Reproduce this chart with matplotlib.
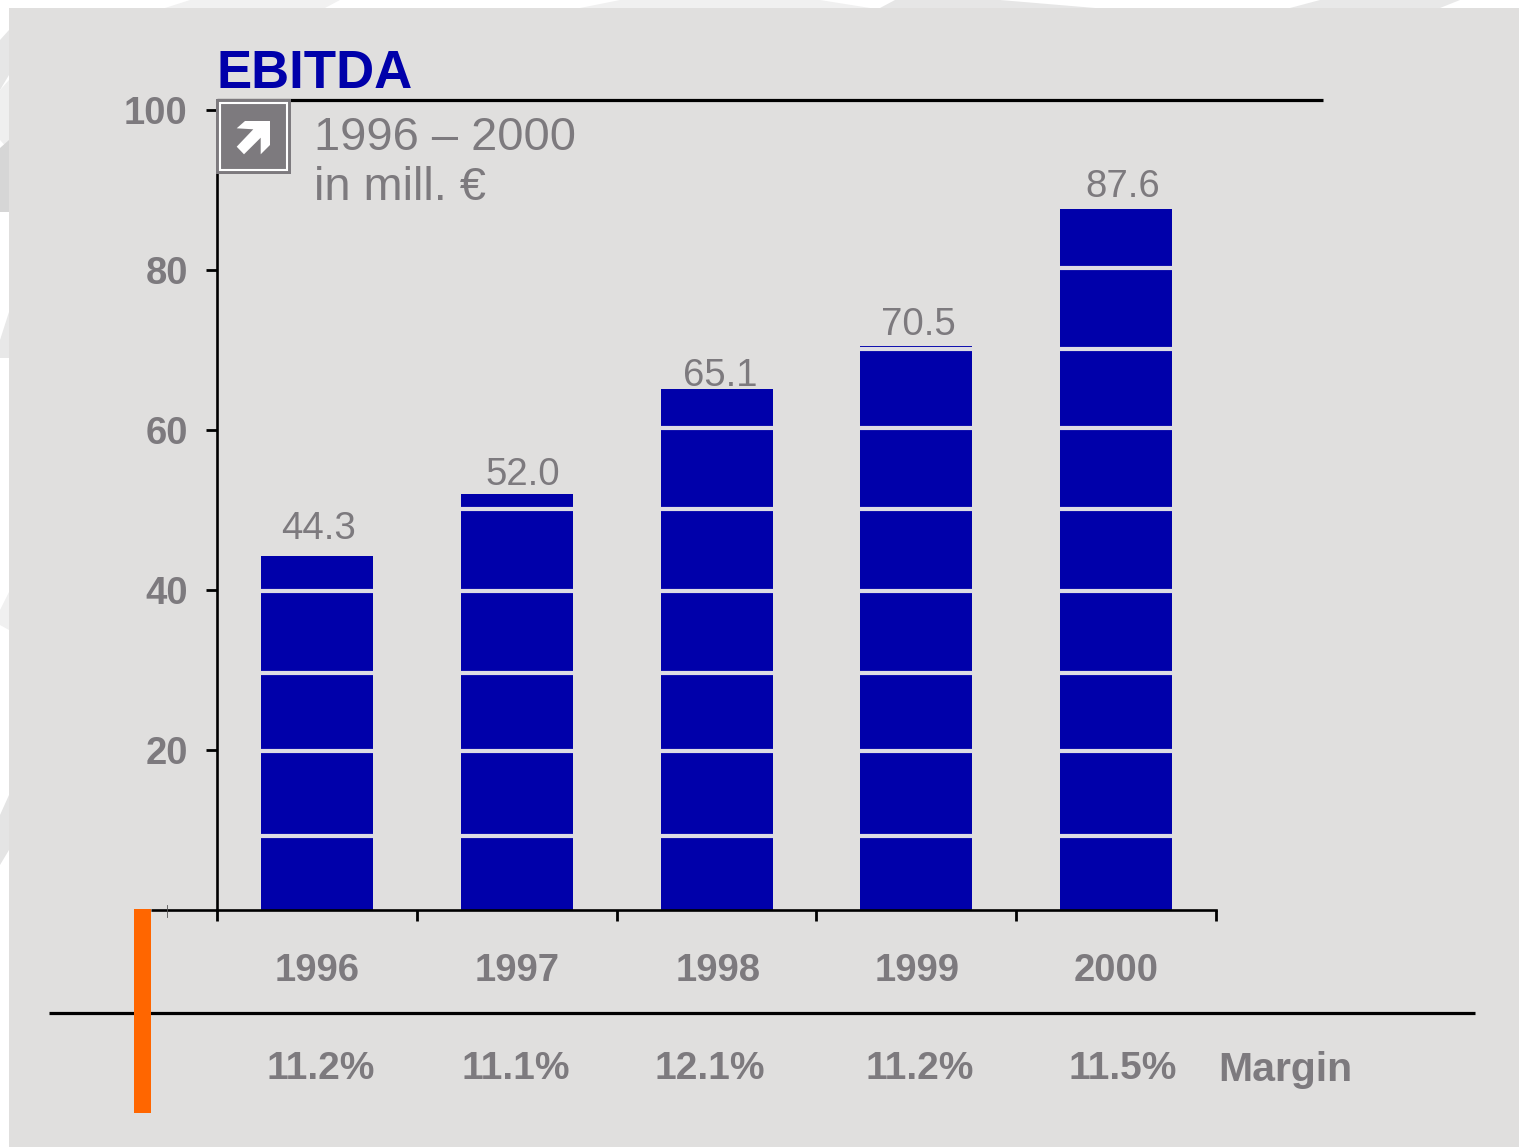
import matplotlib
matplotlib.use("Agg")
import matplotlib.pyplot as plt
from matplotlib.patches import Rectangle, Polygon

plt.rcParams["font.family"] = ["Liberation Sans", "DejaVu Sans"]

years = ["1996", "1997", "1998", "1999", "2000"]
ebitda = [44.3, 52.0, 65.1, 70.5, 87.6]
margins = ["11.2%", "11.1%", "12.1%", "11.2%", "11.5%"]
# white bands across the bars
bands = [9.25, 19.9, 29.6, 39.9, 50.1, 60.25, 70.1, 80.25]
y_ticks = [0, 20, 40, 60, 80, 100]

# label nudges in pixels (dx, gap above the bar)
label_dx = [2, 6, 4, 2, 7]
label_gap = [17, 9, 3, 11, 12]
margin_dx = [4, -1, -7, 3, 7]
year_dx = [0, 0, 2, 1, 0]

W, H = 1519, 1147
BLUE = "#0000AA"
GREY = "#7D7A7E"
PANEL = "#E0DFDE"

fig = plt.figure(figsize=(W / 100, H / 100), dpi=100, facecolor="white")

# page background in pixel coords
bg = fig.add_axes([0, 0, 1, 1], zorder=0)
bg.set_xlim(0, W)
bg.set_ylim(H, 0)
bg.axis("off")
# marble bits along the edge
marble = [
    ([(0, 40), (9, 30), (9, 75), (0, 90)], "#E6E6E6"),
    ([(0, 90), (9, 80), (9, 150), (0, 140)], "#EFEFEF"),
    ([(0, 148), (9, 140), (9, 212), (0, 212)], "#D6D6D6"),
    ([(0, 340), (9, 312), (9, 358), (0, 358)], "#E8E8E8"),
    ([(0, 610), (9, 592), (9, 630), (0, 625)], "#F0F0F0"),
    ([(0, 815), (9, 795), (9, 850), (0, 865)], "#E4E4E4"),
    ([(165, 8), (190, 0), (340, 0), (325, 8)], "#F1F1F1"),
    ([(580, 8), (620, 0), (820, 0), (870, 8)], "#F0F0F0"),
    ([(880, 8), (895, 0), (1000, 0), (1095, 8)], "#E6E6E6"),
    ([(1290, 8), (1320, 0), (1460, 0), (1440, 8)], "#E8E8E8"),
]
for pts, c in marble:
    bg.add_patch(Polygon(pts, closed=True, fc=c, ec="none"))
bg.add_patch(Rectangle((9, 8), W - 9, H - 8, fc=PANEL, ec="none"))

# main chart
ax = fig.add_axes([217 / W, 1 - 910 / H, 999 / W, 800 / H], zorder=1)
ax.patch.set_alpha(0)
xs = list(range(len(years)))
half = 56 / 199.8
ax.bar(xs, ebitda, width=2 * half, color=BLUE, linewidth=0, zorder=2)
for i, v in enumerate(ebitda):
    for b in bands:
        if b < v:
            ax.plot([i - half, i + half], [b, b], color="#DDDCE4",
                    lw=3.0, solid_capstyle="butt", zorder=3)
    ax.annotate(f"{v:.1f}", (i, v), xytext=(label_dx[i] * 0.72, label_gap[i] * 0.72),
                textcoords="offset points", ha="center", va="baseline",
                fontsize=27.6, color=GREY)

ax.set_xlim(-0.5, 4.5)
ax.set_ylim(0, 100)
for s in ["top", "right"]:
    ax.spines[s].set_visible(False)
ax.spines["left"].set_linewidth(1.9)
ax.spines["bottom"].set_linewidth(1.9)
ax.set_yticks(y_ticks[1:])
ax.set_yticklabels([str(t) for t in y_ticks[1:]], fontsize=27.5, fontweight="bold", color=GREY)
ax.tick_params(axis="y", length=8, width=2.0, pad=13)
ax.set_xticks([x - 0.5 for x in xs] + [4.5])
ax.set_xticklabels([])
ax.tick_params(axis="x", length=8, width=2.0)

# everything outside the axes, pixel coords again
top = fig.add_axes([0, 0, 1, 1], zorder=2)
top.set_xlim(0, W)
top.set_ylim(H, 0)
top.axis("off")
top.plot([151, 217], [910, 910], color="black", lw=1.9, solid_capstyle="butt")
top.plot([167, 167], [905, 917], color="#555555", lw=0.6)
top.plot([217, 1323], [100, 100], color="black", lw=2.3, solid_capstyle="butt")
top.plot([49, 1475], [1013, 1013], color="black", lw=2.3, solid_capstyle="butt")
top.add_patch(Rectangle((134, 909), 17, 204, fc="#FF6600", ec="none", zorder=5))

# icon
top.add_patch(Rectangle((216, 99), 75, 75, fc=GREY, ec="none", zorder=5))
top.add_patch(Rectangle((220, 103), 67, 67, fc=GREY, ec="white", lw=1.5, zorder=5))
top.add_patch(Polygon([(236.7, 128.3), (245, 121), (270, 121), (270, 145), (260.7, 154.3),
                       (260.7, 137.7), (244, 154.3), (236.7, 146.7), (253.3, 129.3)],
                      closed=True, fc="white", ec="none", zorder=6))

top.text(217, 88, "EBITDA", fontsize=38, fontweight="bold", color=BLUE, va="baseline")
top.text(314, 150, "1996 – 2000", fontsize=33.8, color=GREY, va="baseline")
top.text(314, 200, "in mill. €", fontsize=33.8, color=GREY, va="baseline")

for i, y in enumerate(years):
    top.text(217 + 199.8 * (i + 0.5) + year_dx[i], 981, y, fontsize=27.5, fontweight="bold",
             color=GREY, ha="center", va="baseline")
for i, m in enumerate(margins):
    top.text(217 + 199.8 * (i + 0.5) + margin_dx[i], 1079, m, fontsize=28, fontweight="bold",
             color=GREY, ha="center", va="baseline")
top.text(1218, 1081, "Margin", fontsize=29.5, fontweight="bold", color=GREY, va="baseline")

fig.savefig("out.png", dpi=100)
